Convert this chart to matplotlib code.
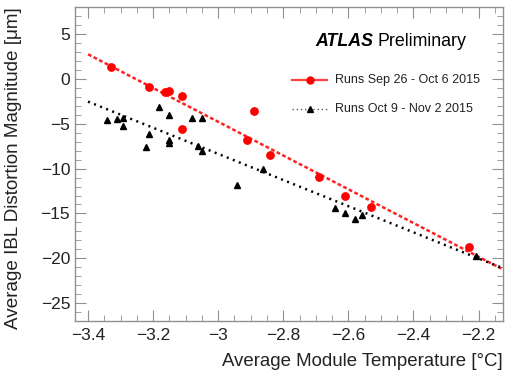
import numpy as np
import matplotlib
matplotlib.use("Agg")
import matplotlib.pyplot as plt
from matplotlib.ticker import MultipleLocator

plt.rcParams['font.family'] = ['Liberation Sans', 'DejaVu Sans']

# Runs Sep 26 - Oct 6 2015
temp_sep = [-3.329, -3.213, -3.163, -3.151, -3.110, -3.110, -2.889, -2.911,
            -2.841, -2.690, -2.610, -2.531, -2.230]
dist_sep = [1.37, -0.93, -1.48, -1.37, -1.96, -5.56, -3.56, -6.78,
            -8.44, -10.9, -13.1, -14.3, -18.7]

# Runs Oct 9 - Nov 2 2015
temp_oct = [-3.342, -3.311, -3.292, -3.292, -3.182, -3.151, -3.080, -3.051,
            -3.212, -3.222, -3.152, -3.152, -3.061, -3.051, -2.941, -2.861,
            -2.641, -2.610, -2.580, -2.559, -2.209]
dist_oct = [-4.56, -4.48, -4.41, -5.22, -3.11, -4.00, -4.33, -4.41,
            -6.15, -7.59, -6.85, -7.15, -7.44, -8.00, -11.78, -10.0,
            -14.4, -14.9, -15.6, -15.15, -19.7]

# linear fits (slope, intercept) and their range
fit_sep = (-18.81, -61.21)
fit_oct = (-14.57, -52.07)
fit_range = (-3.40, -2.13)

fig = plt.figure(figsize=(5.07, 3.76), dpi=100)
ax = fig.add_axes([0.148, 0.146, 0.844, 0.835])

xf = np.array(fit_range)
ax.plot(xf, fit_sep[0] * xf + fit_sep[1], color='#ff2020', lw=1.8,
        ls=(0, (1.5, 1.0)), zorder=2)
ax.plot(xf, fit_oct[0] * xf + fit_oct[1], color='black', lw=1.8,
        ls=(0, (0.8, 1.8)), zorder=2)

ax.plot(temp_sep, dist_sep, 'o', color='#ff0000', ms=5.3, mec='#ff0000', zorder=3)
ax.plot(temp_oct, dist_oct, '^', color='black', ms=4.6, zorder=3)

# legend drawn by hand, ROOT style
lx0, lx1, lxm = 0.508, 0.588, 0.548
ly_sep, ly_oct = 0.768, 0.675
ax.plot([lx0, lx1], [ly_sep, ly_sep], color='#ff4040', lw=1.6, transform=ax.transAxes)
ax.plot([lxm], [ly_sep], 'o', color='#ff0000', ms=5, transform=ax.transAxes)
ax.text(0.607, ly_sep, 'Runs Sep 26 - Oct 6 2015', transform=ax.transAxes,
        fontsize=9, va='center', ha='left', color='#222222')
ax.plot([lx0, lx1], [ly_oct, ly_oct], color='#555555', lw=1.0, ls=(0, (1, 2)),
        transform=ax.transAxes)
ax.plot([lxm], [ly_oct], '^', color='black', ms=4, transform=ax.transAxes)
ax.text(0.607, ly_oct, 'Runs Oct 9 - Nov 2 2015', transform=ax.transAxes,
        fontsize=9, va='center', ha='left', color='#222222')

ax.text(0.562, 0.89, 'ATLAS', transform=ax.transAxes, fontsize=12.8,
        fontweight='bold', fontstyle='italic', va='center', ha='left')
ax.text(0.708, 0.89, 'Preliminary', transform=ax.transAxes, fontsize=12.8,
        va='center', ha='left')

ax.set_xlim(-3.44, -2.125)
ax.set_ylim(-27, 8)
ax.xaxis.set_major_locator(MultipleLocator(0.2))
ax.xaxis.set_minor_locator(MultipleLocator(0.05))
ax.yaxis.set_major_locator(MultipleLocator(5))
ax.yaxis.set_minor_locator(MultipleLocator(1))
ax.xaxis.set_major_formatter(plt.FuncFormatter(lambda v, p: ('%g' % round(v, 2)).replace('-', '\u2212')))

for s in ax.spines.values():
    s.set_color('#909090')
    s.set_linewidth(1.0)
ax.tick_params(axis='both', which='both', direction='in', top=True, right=True,
               color='#909090', labelsize=12.5, labelcolor='#222222')
ax.tick_params(which='major', length=8)
ax.tick_params(which='minor', length=4)
ax.tick_params(axis='x', pad=5)

ax.set_xlabel('Average Module Temperature [\u00b0C]', fontsize=13.4, loc='right',
              color='#222222')
ax.set_ylabel('Average IBL Distortion Magnitude [\u03bcm]', fontsize=13.6, loc='top',
              color='#222222')
ax.xaxis.set_label_coords(1.0, -0.1)
ax.yaxis.set_label_coords(-0.125, 1.0)

fig.savefig('out.png', dpi=100)
